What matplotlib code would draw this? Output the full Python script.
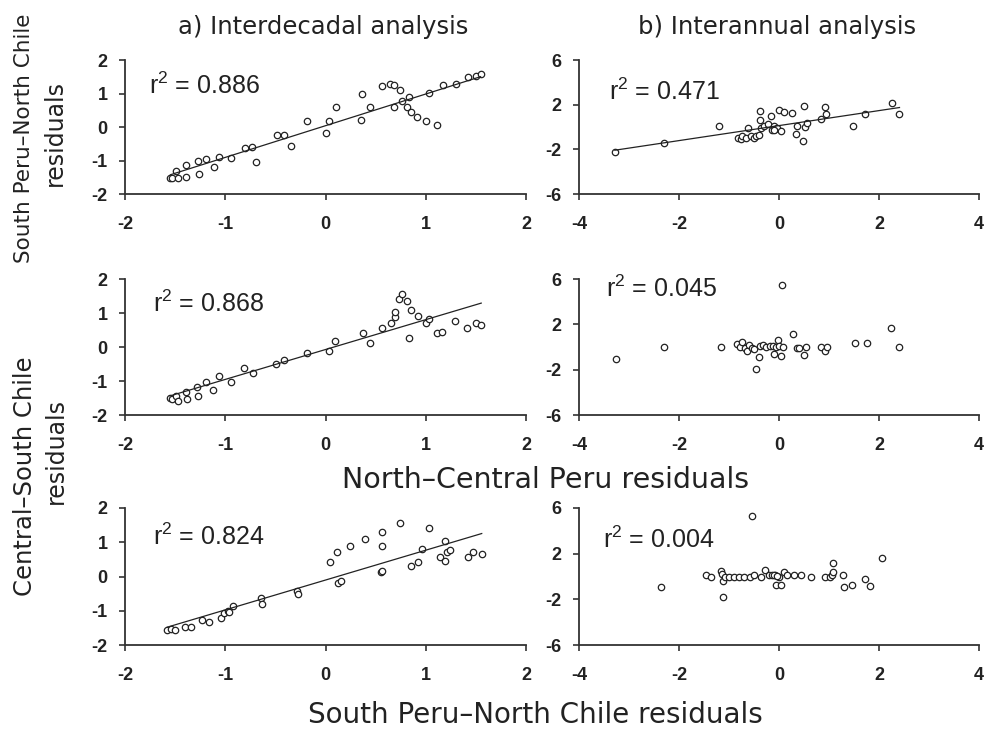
import numpy as np
import matplotlib
matplotlib.use("Agg")
import matplotlib.pyplot as plt

plt.rcParams["axes.unicode_minus"] = False
plt.rcParams["mathtext.fontset"] = "custom"
plt.rcParams["mathtext.rm"] = "Liberation Sans"
plt.rcParams["mathtext.it"] = "Liberation Sans"

# a) interdecadal, row 1: South Peru-North Chile vs North-Central Peru
a1_x = [-1.547, -1.527, -1.493, -1.467, -1.387, -1.387, -1.277, -1.267, -1.193, -1.117,
        -1.06, -0.947, -0.807, -0.733, -0.697, -0.487, -0.41, -0.347, -0.18, 0.007,
        0.033, 0.10, 0.353, 0.367, 0.447, 0.567, 0.647, 0.683, 0.747, 0.76,
        0.813, 0.833, 0.853, 0.917, 1.003, 1.107, 1.033, 1.167, 1.297, 1.417,
        1.503, 1.547, 0.687]
a1_y = [-1.51, -1.53, -1.31, -1.53, -1.13, -1.50, -1.00, -1.39, -0.96, -1.19,
        -0.89, -0.92, -0.62, -0.59, -1.04, -0.24, -0.24, -0.58, 0.18, -0.17,
        0.18, 0.60, 0.21, 0.99, 0.60, 1.21, 1.29, 1.25, 1.10, 0.79,
        0.60, 0.89, 0.46, 0.29, 0.18, 0.06, 1.02, 1.25, 1.29, 1.48,
        1.52, 1.59, 0.60]

# b) interannual, row 1
b1_x = [-3.283, -2.30, -1.197, -0.817, -0.763, -0.73, -0.65, -0.61, -0.55, -0.497,
        -0.45, -0.403, -0.383, -0.383, -0.357, -0.297, -0.223, -0.157, -0.13, -0.097,
        -0.07, -0.037, 0.003, 0.05, 0.097, 0.263, 0.337, 0.37, 0.483, 0.503,
        0.517, 0.557, 0.837, 0.917, 0.943, 1.49, 1.73, 2.257, 2.41, -0.09]
b1_y = [-2.28, -1.39, 0.13, -0.96, -1.10, -0.76, -0.96, -0.10, -0.76, -0.96,
        -0.76, -0.70, 1.45, 0.59, -0.10, 0.13, 0.24, 1.02, -0.27, 0.13,
        -0.16, -0.10, 1.56, -0.39, 1.36, 1.27, -0.62, 0.13, -1.27, 1.91,
        0.04, 0.39, 0.76, 1.79, 1.13, 0.13, 1.13, 2.11, 1.13, -0.24]

# a) row 2: Central-South Chile vs North-Central Peru
a2_x = [-1.553, -1.533, -1.493, -1.467, -1.387, -1.377, -1.278, -1.268, -1.195, -1.119,
        -1.063, -0.944, -0.811, -0.725, -0.493, -0.417, -0.189, 0.036, 0.099, 0.371,
        0.444, 0.563, 0.652, 0.692, 0.692, 0.728, 0.758, 0.815, 0.851, 0.828,
        0.924, 1.0, 1.03, 1.109, 1.159, 1.295, 1.411, 1.497, 1.553]
a2_y = [-1.51, -1.54, -1.45, -1.59, -1.33, -1.54, -1.17, -1.45, -1.02, -1.25,
        -0.84, -1.02, -0.61, -0.76, -0.51, -0.39, -0.18, -0.13, 0.17, 0.42,
        0.11, 0.57, 0.71, 0.89, 1.04, 1.41, 1.55, 1.34, 1.09, 0.28,
        0.91, 0.72, 0.82, 0.42, 0.45, 0.77, 0.57, 0.72, 0.65]

# b) row 2
b2_x = [-3.262, -2.299, -1.169, -0.837, -0.777, -0.738, -0.671, -0.638, -0.591, -0.538,
        -0.492, -0.458, -0.399, -0.372, -0.326, -0.259, -0.179, -0.126, -0.093, -0.06,
        -0.02, 0.007, 0.033, 0.06, 0.086, 0.272, 0.352, 0.405, 0.505, 0.538,
        0.837, 0.917, 0.957, 1.515, 1.761, 2.239, 2.405]
b2_y = [-1.07, -0.02, -0.02, 0.29, -0.02, 0.41, -0.11, -0.35, 0.17, -0.11,
        -0.17, -1.91, -0.89, 0.05, 0.20, -0.02, 0.05, 0.05, -0.62, -0.02,
        0.62, 0.05, -0.77, 5.49, -0.02, 1.19, -0.11, -0.11, -0.74, -0.02,
        -0.02, -0.32, -0.02, 0.35, 0.35, 1.70, -0.02]

# a) row 3: Central-South Chile vs South Peru-North Chile
a3_x = [-1.578, -1.545, -1.505, -1.406, -1.343, -1.231, -1.162, -1.043, -1.01, -0.977,
        -0.96, -0.924, -0.647, -0.637, -0.281, -0.277, 0.04, 0.119, 0.129, 0.155,
        0.244, 0.393, 0.551, 0.561, 0.564, 0.564, 0.746, 0.855, 0.927, 0.96,
        1.036, 1.145, 1.188, 1.188, 1.208, 1.244, 1.422, 1.469, 1.558]
a3_y = [-1.56, -1.53, -1.56, -1.46, -1.46, -1.26, -1.34, -1.20, -1.07, -1.02,
        -1.05, -0.86, -0.63, -0.79, -0.41, -0.51, 0.41, 0.71, -0.19, -0.14,
        0.90, 1.08, 0.12, 1.29, 0.90, 0.17, 1.57, 0.30, 0.41, 0.80,
        1.42, 0.56, 1.05, 0.44, 0.71, 0.76, 0.56, 0.71, 0.66]

# b) row 3
b3_x = [-2.359, -1.455, -1.369, -1.169, -1.136, -1.116, -1.11, -1.07, -0.99, -0.89,
        -0.797, -0.698, -0.578, -0.538, -0.505, -0.352, -0.272, -0.206, -0.14, -0.073,
        -0.053, -0.007, 0.04, 0.106, 0.153, 0.299, 0.439, 0.645, 0.924, 1.023,
        1.07, 1.09, 1.09, 1.289, 1.309, 1.468, 1.721, 1.821, 2.053, -0.106,
        -0.04]
b3_y = [-0.93, 0.12, -0.03, 0.46, 0.23, -0.35, -1.83, -0.03, -0.03, -0.03,
        -0.03, -0.03, -0.03, 5.30, 0.12, -0.03, 0.55, 0.12, 0.12, 0.12,
        -0.70, -0.03, -0.70, 0.41, 0.12, 0.12, 0.12, -0.03, -0.03, -0.03,
        0.12, 1.19, 0.41, 0.12, -0.93, -0.70, -0.26, -0.81, 1.62, 0.12,
        0.03]

r2_labels = ["0.886", "0.471", "0.868", "0.045", "0.824", "0.004"]
has_fit = [True, True, True, False, True, False]

panels = [(a1_x, a1_y), (b1_x, b1_y), (a2_x, a2_y), (b2_x, b2_y), (a3_x, a3_y), (b3_x, b3_y)]

fig = plt.figure(figsize=(9.86, 7.33), dpi=100)

col_left = [0.1268, 0.5872]
col_w = [0.4067, 0.4057]
row_bot = [0.7353, 0.4338, 0.12]
row_h = [0.1828, 0.1855, 0.187]
r2_pos = [(0.06, 0.81), (0.075, 0.76), (0.07, 0.82), (0.068, 0.93), (0.07, 0.79), (0.06, 0.77)]

ink = "#333333"
for i, (px, py) in enumerate(panels):
    row, col = divmod(i, 2)
    ax = fig.add_axes([col_left[col], row_bot[row], col_w[col], row_h[row]])
    ax.plot(px, py, ls="none", marker="o", ms=4.6, mfc="white", mec="#222222", mew=0.9)
    if has_fit[i]:
        k, b = np.polyfit(px, py, 1)
        xs = np.array([min(px), max(px)])
        ax.plot(xs, k * xs + b, color="#222222", lw=0.9)
    if col == 0:
        ax.set_xlim(-2, 2)
        ax.set_ylim(-2, 2)
        ax.set_xticks([-2, -1, 0, 1, 2])
        ax.set_yticks([-2, -1, 0, 1, 2])
    else:
        ax.set_xlim(-4, 4)
        ax.set_ylim(-6, 6)
        ax.set_xticks([-4, -2, 0, 2, 4])
        ax.set_yticks([-6, -2, 2, 6])
    for s in ["top", "right"]:
        ax.spines[s].set_visible(False)
    for s in ["left", "bottom"]:
        ax.spines[s].set_color(ink)
        ax.spines[s].set_linewidth(1.3)
    ax.tick_params(direction="out", length=4.5, width=1.2, color=ink)
    ax.tick_params(axis="x", pad=11)
    ax.tick_params(axis="y", pad=8)
    for lab in ax.get_xticklabels() + ax.get_yticklabels():
        lab.set_fontfamily("Liberation Sans")
        lab.set_fontweight("bold")
        lab.set_fontsize(13)
        lab.set_color("#222222")
    ax.text(r2_pos[i][0], r2_pos[i][1], "r$^2$ = " + r2_labels[i], transform=ax.transAxes,
            ha="left", va="center", fontsize=18, family="Liberation Sans", color="#222222")
    ax.patch.set_alpha(0)

lab_kw = dict(family="DejaVu Sans", color="#222222")
fig.text(323 / 986, 1 - 27 / 733, "a) Interdecadal analysis", ha="center", va="center", fontsize=17.5, **lab_kw)
fig.text(777 / 986, 1 - 27 / 733, "b) Interannual analysis", ha="center", va="center", fontsize=17.5, **lab_kw)
fig.text(546 / 986, 1 - 480 / 733, "North\u2013Central Peru residuals", ha="center", va="center", fontsize=20.5, **lab_kw)
fig.text(535 / 986, 1 - 715 / 733, "South Peru\u2013North Chile residuals", ha="center", va="center", fontsize=20, **lab_kw)
fig.text(24 / 986, 1 - 138 / 733, "South Peru\u2013North Chile", rotation=90, ha="center", va="center", fontsize=15.5, **lab_kw)
fig.text(55 / 986, 1 - 133 / 733, "residuals", rotation=90, ha="center", va="center", fontsize=17, **lab_kw)
fig.text(25 / 986, 1 - 476 / 733, "Central\u2013South Chile", rotation=90, ha="center", va="center", fontsize=17.5, **lab_kw)
fig.text(56 / 986, 1 - 451 / 733, "residuals", rotation=90, ha="center", va="center", fontsize=17, **lab_kw)

fig.savefig("out.png", dpi=100)
